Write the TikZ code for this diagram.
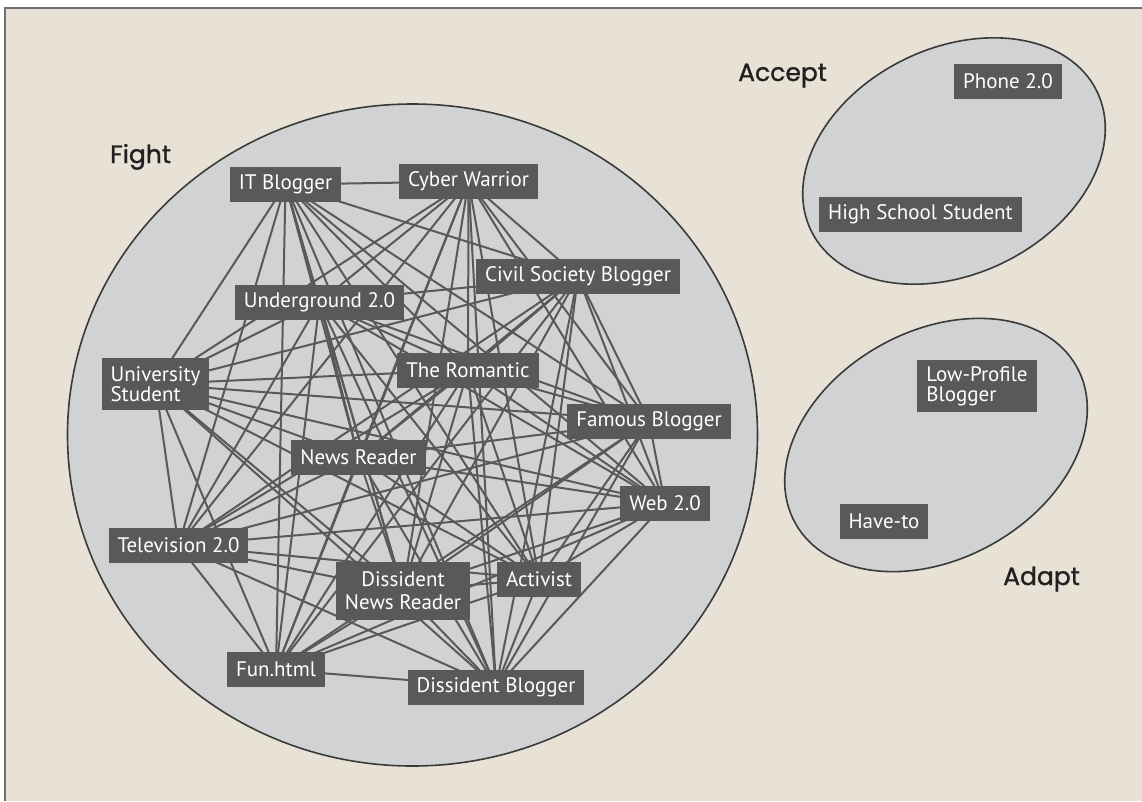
\documentclass[tikz,border=0pt]{standalone}
\usepackage{fontspec}
\setmainfont{PT Sans}
\newfontfamily\groupfont[FakeBold=1.2]{Poppins}
\definecolor{paperBeige}{RGB}{231,225,214}
\definecolor{fightGray}{RGB}{209,210,212}
\definecolor{boxGray}{RGB}{88,89,91}
\definecolor{rimGray}{RGB}{58,58,58}
\definecolor{frameGray}{RGB}{110,111,113}
\definecolor{labelInk}{RGB}{35,31,32}
\pgfdeclarelayer{bg}
\pgfdeclarelayer{links}
\pgfsetlayers{bg,links,main}

\begin{document}
\begin{tikzpicture}[x=1pt,y=-1pt,
    actor/.style={fill=boxGray, text=white, font=\fontsize{21}{20}\selectfont,
        inner xsep=9pt, inner ysep=0pt, minimum height=35pt},
    group/.style={text=labelInk, font=\groupfont\fontsize{25}{30}\selectfont,
        anchor=base west, inner sep=0pt},
    link/.style={boxGray, line width=2pt},
    rim/.style={draw=rimGray, line width=1.6pt, fill=fightGray}]

    \useasboundingbox (0,0) rectangle (1142,801);

    % paper and frame
    \begin{pgfonlayer}{bg}
    \fill[white] (0,0) rectangle (1142,801);
    \fill[paperBeige] (5,8) rectangle (1142,801);
    \draw[frameGray, line width=2pt] (5.3,801) -- (5.3,8.3) -- (1142,8.3);

    % the three groups
    \draw[rim] (412.5,435) ellipse [x radius=345, y radius=331];
    \draw[rim, rotate around={26:(954,161)}] (954,161) ellipse [x radius=159, y radius=113];
    \draw[rim, rotate around={29:(936,445)}] (936,445) ellipse [x radius=161, y radius=114];
    \end{pgfonlayer}

    % group labels
    \node[group] (fightlbl) at (110,163) {Fight};
    \node[group] (acceptlbl) at (738,81) {Accept};
    \node[group] (adaptlbl) at (1003,585) {Adapt};

    % fight
    \node[actor] (itb) at (285.5,184.5) {IT Blogger};
    \node[actor] (cyber) at (468.5,181.5) {Cyber Warrior};
    \node[actor] (civil) at (578,276.5) {Civil Society Blogger};
    \node[actor] (under) at (319.5,302) {Underground 2.0};
    \node[actor, align=left, minimum height=52pt] (univ) at (155.5,384) {University\\Student};
    \node[actor] (romantic) at (468,370) {The Romantic};
    \node[actor] (famous) at (649,421) {Famous Blogger};
    \node[actor] (news) at (358.5,457.5) {News Reader};
    \node[actor] (web) at (665,503.5) {Web 2.0};
    \node[actor] (tv) at (178.5,545.5) {Television 2.0};
    \node[actor, align=center, minimum height=58pt] (dnr) at (403,591) {Dissident\\[3pt]News Reader};
    \node[actor] (activist) at (539,579) {Activist};
    \node[actor] (fun) at (276,669.5) {Fun.html};
    \node[actor] (dissblog) at (496,687) {Dissident Blogger};

    % accept
    \node[actor] (phone) at (1008,81) {Phone 2.0};
    \node[actor] (hss) at (920.5,214.5) {High School Student};

    % adapt
    \node[actor, align=left, minimum height=52pt] (lowprof) at (977,386) {Low-Profile\\Blogger};
    \node[actor] (haveto) at (884,521) {Have-to};

    % everybody in fight is linked to everybody
    \def\fightlist{itb,cyber,civil,under,univ,romantic,famous,news,web,tv,dnr,activist,fun,dissblog}
    \begin{pgfonlayer}{links}
    \foreach \a [count=\i] in \fightlist
        \foreach \b [count=\j] in \fightlist
            {\ifnum\j>\i \draw[link] (\a.center) -- (\b.center); \fi}
    \end{pgfonlayer}

\end{tikzpicture}
\end{document}
